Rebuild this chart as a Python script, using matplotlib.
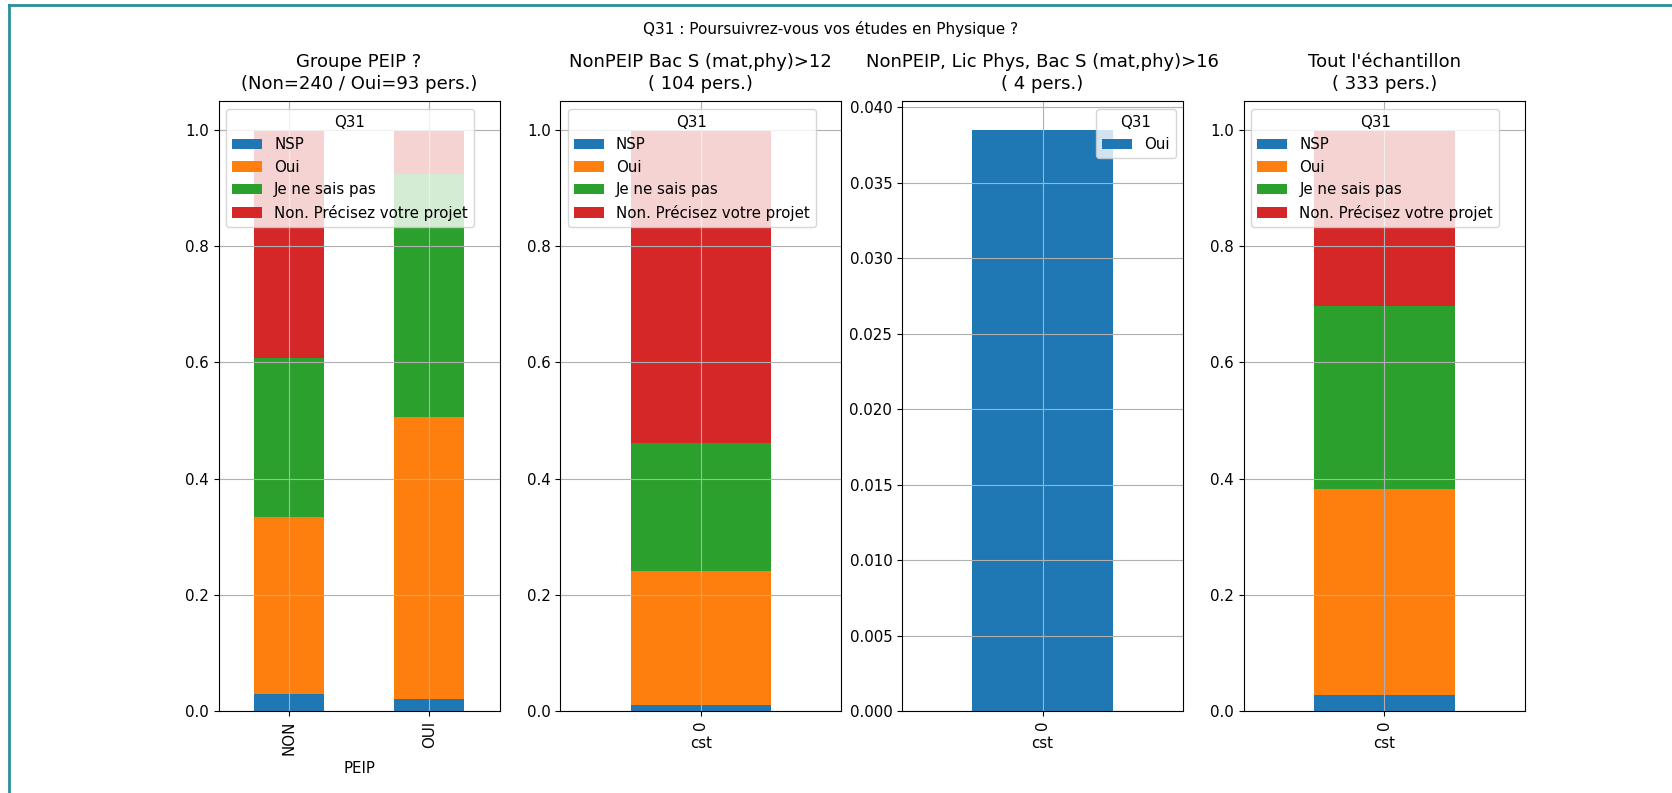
import numpy as np
import matplotlib
matplotlib.use("Agg")
import matplotlib.pyplot as plt
from matplotlib.lines import Line2D

plt.rcParams['font.family'] = ['DejaVu Sans']
plt.rcParams['font.size'] = 10.8

# answers to Q31, in stacking order
responses = ["NSP", "Oui", "Je ne sais pas", "Non. Précisez votre projet"]
colors = ["#1f77b4", "#ff7f0e", "#2ca02c", "#d62728"]

# panel 1 : PEIP groups (counts per answer)
peip_groups = ["NON", "OUI"]
peip_nsp = [7, 2]
peip_oui = [73, 45]
peip_jnsp = [66, 39]
peip_non = [94, 7]

# panel 2 : NonPEIP Bac S >12 (104 pers.)
bac12_counts = [1, 24, 23, 56]

# panel 3 : NonPEIP, Lic Phys, Bac S >16 (only "Oui" present)
lic16_labels = ["Oui"]
lic16_frac = [0.0385]

# panel 4 : whole sample (333 pers.)
total_counts = [9, 118, 105, 101]

titles = ["Groupe PEIP ?\n(Non=240 / Oui=93 pers.)",
          "NonPEIP Bac S (mat,phy)>12\n( 104 pers.)",
          "NonPEIP, Lic Phys, Bac S (mat,phy)>16\n( 4 pers.)",
          "Tout l'échantillon\n( 333 pers.)"]


def stacked(ax, cats, table, labels, cols, xlabel):
    table = np.asarray(table, dtype=float)
    x = np.arange(len(cats))
    bottom = np.zeros(len(cats))
    for k, lab in enumerate(labels):
        ax.bar(x, table[k], 0.5, bottom=bottom, color=cols[k], label=lab)
        bottom += table[k]
    ax.set_xticks(x)
    ax.set_xticklabels(cats, rotation=90)
    ax.set_xlim(-0.5, len(cats) - 0.5)
    ax.set_xlabel(xlabel)
    ax.grid(True)


fig, axs = plt.subplots(1, 4, figsize=(16.72, 7.93), dpi=100)
fig.subplots_adjust(left=0.1307, right=0.912, bottom=0.1034, top=0.8726, wspace=0.216)

peip = np.array([peip_nsp, peip_oui, peip_jnsp, peip_non], dtype=float)
peip = peip / peip.sum(axis=0)
stacked(axs[0], peip_groups, peip, responses, colors, "PEIP")

b12 = np.array(bac12_counts, dtype=float)
stacked(axs[1], ["0"], (b12 / b12.sum())[:, None], responses, colors, "cst")

stacked(axs[2], ["0"], np.array(lic16_frac)[:, None], lic16_labels, colors, "cst")

tot = np.array(total_counts, dtype=float)
stacked(axs[3], ["0"], (tot / tot.sum())[:, None], responses, colors, "cst")

for i, ax in enumerate(axs):
    ax.set_title(titles[i], fontsize=13, linespacing=1.3, pad=8.5)
    ax.legend(title="Q31", loc="upper right" if i == 2 else "upper left")

fig.suptitle("Q31 : Poursuivrez-vous vos études en Physique ?", fontsize=11,
             x=0.497, y=0.964, va="center")

# teal frame of the original screenshot (top and left edges)
fig.add_artist(Line2D([0.0055, 0.0055], [0, 0.994], transform=fig.transFigure, color="#2b8e9b", lw=2))
fig.add_artist(Line2D([0.0055, 1], [0.994, 0.994], transform=fig.transFigure, color="#2b8e9b", lw=2))

fig.savefig("out.png", dpi=100)
